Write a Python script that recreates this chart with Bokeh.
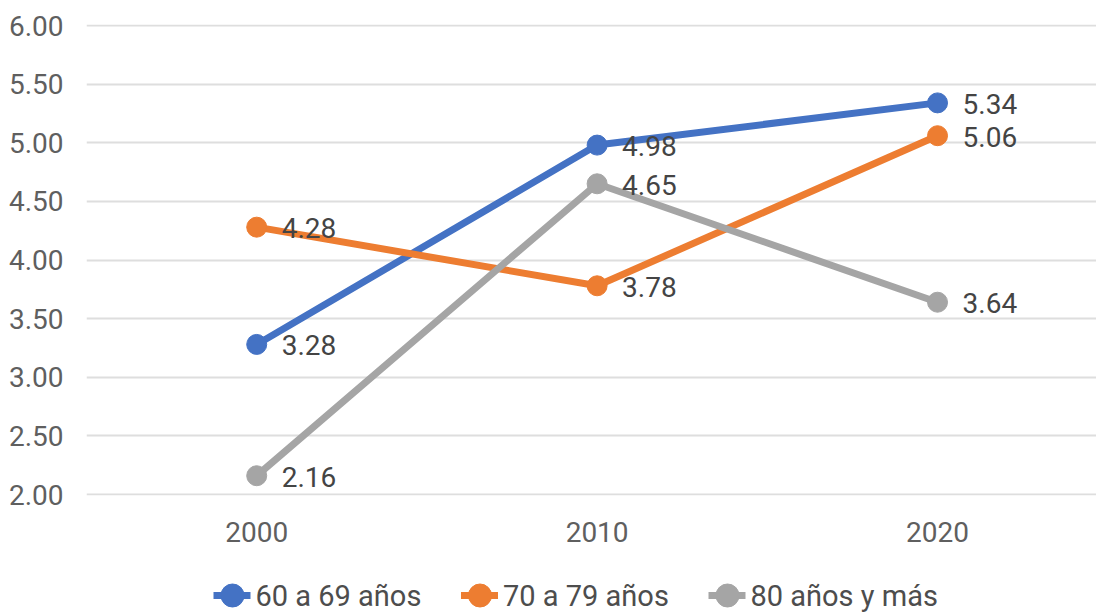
from bokeh.plotting import figure
from bokeh.layouts import column
from bokeh.models import ColumnDataSource, FixedTicker, NumeralTickFormatter
from bokeh.core.properties import value
from bokeh.embed import file_html
from bokeh.resources import INLINE

years = ["2000", "2010", "2020"]
series_names = ["60 a 69 años", "70 a 79 años", "80 años y más"]
s1 = [3.28, 4.98, 5.34]
s2 = [4.28, 3.78, 5.06]
s3 = [2.16, 4.65, 3.64]
y_ticks = [2.0, 2.5, 3.0, 3.5, 4.0, 4.5, 5.0, 5.5, 6.0]

colors = ["#4472C4", "#ED7D31", "#A5A5A5"]
FONT = "Roboto"
W = 1096
MAIN_H = 560
LEG_H = 52
LEFT = 86
PAD = 1 / 117.25

p = figure(width=W, height=MAIN_H, x_range=(-0.5, 2.467), y_range=(2 - PAD, 6 + PAD),
           output_backend="svg", toolbar_location=None,
           min_border_left=LEFT, min_border_top=24, min_border_right=0,
           min_border_bottom=MAIN_H - 495)
p.outline_line_color = None
p.background_fill_color = "white"
p.border_fill_color = "white"

xs = list(range(len(years)))
for name, vals, c in zip(series_names, [s1, s2, s3], colors):
    src = ColumnDataSource(dict(x=xs, y=vals, lab=["%.2f" % v for v in vals]))
    p.line("x", "y", source=src, line_color=c, line_width=7)
    p.scatter("x", "y", source=src, size=20, fill_color=c, line_color=c)
    p.text("x", "y", text="lab", source=src, x_offset=25, y_offset=1,
           text_baseline="middle", text_align="left", text_font=value(FONT),
           text_font_size="28px", text_color="#444444")

p.xaxis.ticker = FixedTicker(ticks=xs)
p.xaxis.major_label_overrides = {i: y for i, y in enumerate(years)}
p.yaxis.ticker = FixedTicker(ticks=y_ticks)
p.yaxis.formatter = NumeralTickFormatter(format="0.00")
for ax in (p.xaxis[0], p.yaxis[0]):
    ax.axis_line_color = None
    ax.major_tick_line_color = None
    ax.minor_tick_line_color = None
    ax.major_label_text_font = FONT
    ax.major_label_text_font_size = "28px"
    ax.major_label_text_color = "#5f5f5f"
p.yaxis.major_label_standoff = 17
p.xaxis.major_label_standoff = 20
p.xgrid.grid_line_color = None
p.ygrid.grid_line_color = "#dedede"
p.ygrid.grid_line_width = 2

# legend strip as its own small figure (frame aligned with the main frame)
leg = figure(width=W, height=LEG_H, x_range=(LEFT, W), y_range=(0, LEG_H),
             output_backend="svg", toolbar_location=None,
             min_border_left=LEFT, min_border_right=0,
             min_border_top=0, min_border_bottom=0)
leg.axis.visible = False
leg.grid.visible = False
leg.outline_line_color = None
leg.border_fill_color = "white"
cx0, step, cy = 232, 247.5, 17
for i, (name, c) in enumerate(zip(series_names, colors)):
    cx = cx0 + i * step
    leg.segment(x0=[cx - 19], y0=[cy], x1=[cx + 18], y1=[cy], line_color=c, line_width=7)
    leg.scatter(x=[cx], y=[cy], size=23, fill_color=c, line_color=c)
    leg.text(x=[cx + 23], y=[cy], text=[name], text_baseline="middle", text_align="left",
             text_font=value(FONT), text_font_size="29px", text_color="#4d4d4d")

layout = column(p, leg, spacing=0)
open("out.html", "w").write(file_html(layout, INLINE))
